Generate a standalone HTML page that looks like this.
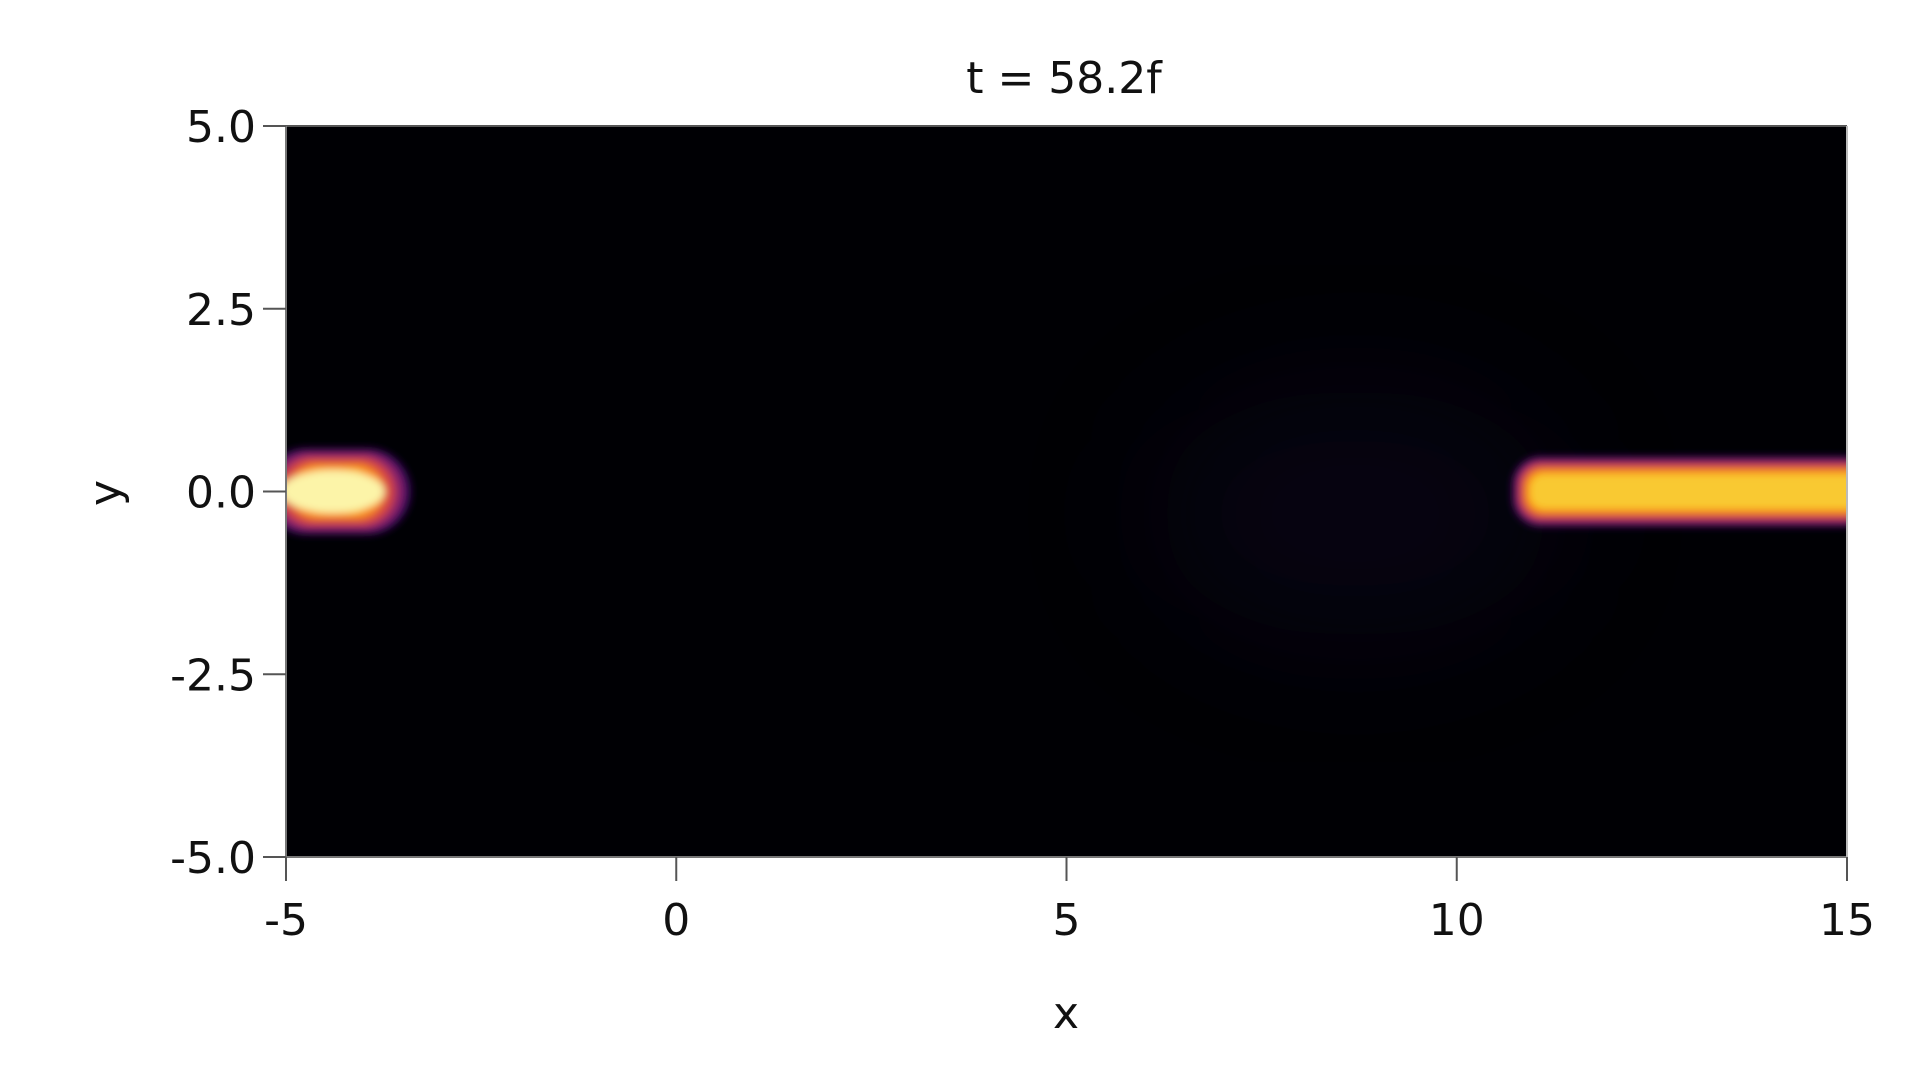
<!DOCTYPE html>
<html><head><meta charset="utf-8"><style>
html,body{margin:0;padding:0;background:#fff;width:1920px;height:1080px;overflow:hidden}
svg{display:block}
text{font-family:"DejaVu Sans","Liberation Sans",sans-serif;fill:#111}
</style></head><body>
<svg id="chart" width="1920" height="1080" viewBox="0 0 1920 1080" xmlns="http://www.w3.org/2000/svg">
<defs>
<clipPath id="plotclip"><rect x="286" y="126" width="1561" height="731"/></clipPath>
<filter id="b1" x="-50%" y="-50%" width="200%" height="200%"><feGaussianBlur stdDeviation="4"/></filter>
<filter id="b2" x="-50%" y="-50%" width="200%" height="200%"><feGaussianBlur stdDeviation="70"/></filter>
</defs>
<text x="1064" y="93" font-size="44" text-anchor="middle">t = 58.2f</text>
<rect x="286" y="126" width="1561" height="731" fill="#000004"/>
<g id="marks" clip-path="url(#plotclip)"></g>
<g id="axes"></g>
<text x="1066" y="1028" font-size="44" text-anchor="middle">x</text>
<text x="0" y="0" font-size="44" text-anchor="middle" transform="translate(120,493) rotate(-90)">y</text>
</svg>
<script>
const xTicks=[-5,0,5,10,15];
const xTickLabels=["-5","0","5","10","15"];
const yTicks=[5,2.5,0,-2.5,-5];
const yTickLabels=["5.0","2.5","0.0","-2.5","-5.0"];
// blob (soliton) at left
const blobCenterX=[-4.35];
const blobCenterY=[0];
const blobHalfWidth=[0.95];
const blobHalfHeight=[0.59];
// bar (stream) at right
const barStartX=[10.71];
const barEndX=[15.3];
const barCenterY=[0];
const barHalfHeight=[0.48];
// faint glow
const glowCenterX=[8.7];
const glowCenterY=[-0.3];
const glowHalfWidth=[2.6];
const glowHalfHeight=[1.7];

const X0=286,X1=1847,Y0=126,Y1=857;
const xs=v=>X0+(v+5)/20*(X1-X0);
const ys=v=>Y0+(5-v)/10*(Y1-Y0);
const NS="http://www.w3.org/2000/svg";
const marks=document.getElementById('marks');
const axes=document.getElementById('axes');
function mk(tag,attrs,parent){const e=document.createElementNS(NS,tag);for(const k in attrs)e.setAttribute(k,attrs[k]);parent.appendChild(e);return e;}

const layers=[["#3a0a5e",1.0],["#8c2369",0.9],["#d8473f",0.78],["#f98c0a",0.64],["#f9c932",0.5]];
glowCenterX.forEach((g,i)=>{
  const e=mk('ellipse',{cx:xs(g),cy:ys(glowCenterY[i]),rx:glowHalfWidth[i]*78,ry:glowHalfHeight[i]*73,fill:"#140b30",opacity:0.3,filter:"url(#b2)"},marks);
  
  
});
blobCenterX.forEach((c,i)=>{
  const g=mk('g',{filter:"url(#b1)"},marks);
  
  
  const rx=blobHalfWidth[i]*(X1-X0)/20, ry=blobHalfHeight[i]*(Y1-Y0)/10;
  layers.forEach(([col,f])=>{
    mk('rect',{x:xs(c)-rx*f,y:ys(blobCenterY[i])-ry*f,width:2*rx*f,height:2*ry*f,rx:ry*f,ry:ry*f,fill:col},g);
  });
  mk('ellipse',{cx:xs(c)-4,cy:ys(blobCenterY[i]),rx:rx*0.7,ry:ry*0.5,fill:"#fcf4a8"},g);
});
barStartX.forEach((s,i)=>{
  const g=mk('g',{filter:"url(#b1)"},marks);
  
  
  const x0=xs(s),x1=xs(barEndX[i]),h=barHalfHeight[i]*(Y1-Y0)/10,cy=ys(barCenterY[i]);
  layers.forEach(([col,f])=>{
    const inset=(1-f)*h;
    mk('rect',{x:x0+inset,y:cy-h*f,width:x1-x0-inset,height:2*h*f,rx:h*f*0.8,ry:h*f*0.8,fill:col},g);
  });
});

// axes
mk('line',{x1:X0,y1:Y0,x2:X1,y2:Y0,stroke:"#555","stroke-width":2},axes);
mk('line',{x1:X0,y1:Y1,x2:X1,y2:Y1,stroke:"#777","stroke-width":2},axes);
mk('line',{x1:X0,y1:Y0,x2:X0,y2:Y1,stroke:"#777","stroke-width":2},axes);
mk('line',{x1:X1,y1:Y0,x2:X1,y2:Y1,stroke:"#bbb","stroke-width":2},axes);
xTicks.forEach((t,i)=>{
  const tk=mk('line',{x1:xs(t),y1:Y1,x2:xs(t),y2:Y1+24,stroke:"#555","stroke-width":2},axes);
  
  
  const tx=mk('text',{x:xs(t),y:935,"font-size":44,"text-anchor":"middle"},axes);
  tx.textContent=xTickLabels[i];
  
  
});
yTicks.forEach((t,i)=>{
  const tk=mk('line',{x1:X0-23,y1:ys(t),x2:X0,y2:ys(t),stroke:"#555","stroke-width":2},axes);
  
  
  const tx=mk('text',{x:X0-30,y:ys(t)+16,"font-size":44,"text-anchor":"end"},axes);
  tx.textContent=yTickLabels[i];
  
  
});
</script>
</body></html>
